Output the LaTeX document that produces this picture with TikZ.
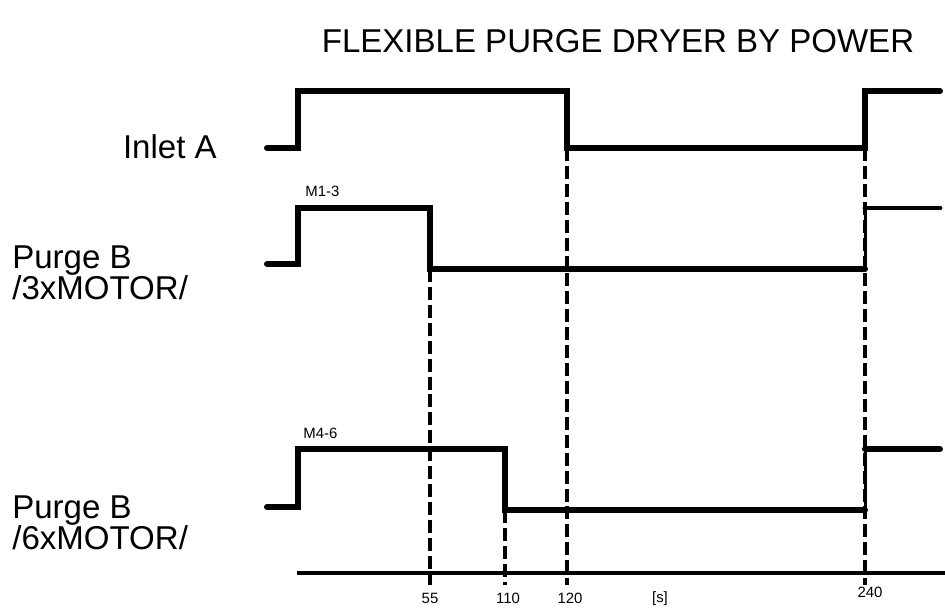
\documentclass[tikz,border=0pt]{standalone}
\usepackage{fontspec}
\setmainfont{Liberation Sans}
\usetikzlibrary{positioning}
\tikzset{
  wave/.style={line width=3.4pt,line cap=round,line join=miter},
  riser/.style={line width=1.7pt},
  guide/.style={line width=1.8pt,dash pattern=on 7.4pt off 2.8pt},
  axisline/.style={line width=2pt},
  sig/.style={font=\fontsize{18.8}{18.1}\selectfont,inner sep=0pt,align=left},
  tag/.style={font=\fontsize{8.5}{10}\selectfont,inner sep=0pt},
}
\begin{document}
\begin{tikzpicture}[x=0.02cm,y=-0.02cm]
  \useasboundingbox (0,0) rectangle (945,608);
  % title and signal names
  \node[sig,anchor=base] (title) at (618,52) {FLEXIBLE PURGE DRYER BY POWER};
  \node[sig,anchor=base east] (inlet) at (217,158) {Inlet A};
  \node[sig,anchor=north west] (purge3) at (12,245) {Purge B\\/3xMOTOR/};
  \node[sig,anchor=north west] (purge6) at (12,495) {Purge B\\/6xMOTOR/};
  \node[tag,anchor=base west] (m13) at (305,196) {M1-3};
  \node[tag,anchor=base west] (m46) at (303,438) {M4-6};
  % time axis
  \coordinate (ax0) at (297,573);
  \coordinate (ax1) at (945,573);
  \draw[axisline] (ax0) -- (ax1);
  \draw[guide] (430,269) -- (430,585);
  \draw[guide] (505,510) -- (505,585);
  \draw[guide] (567,148) -- (567,585);
  \draw[guide] (865,148) -- (865,585);
  \node[tag,anchor=base] (t55) at (430,603) {55};
  \node[tag,anchor=base] (t110) at (508,603) {110};
  \node[tag,anchor=base] (t120) at (570,603) {120};
  \node[tag,anchor=base] (unit) at (660,602) {[s]};
  \node[tag,anchor=base] (t240) at (870,597) {240};
  % Inlet A
  \draw[wave] (267,148) -- (298,148) -- (298,91) -- (567,91) -- (567,148)
    -- (865,148) -- (865,91) -- (940,91);
  % Purge B, 3 motors
  \draw[wave] (267,264) -- (298,264) -- (298,208) -- (430,208) -- (430,269)
    -- (865,269);
  \draw[riser] (865,269) -- (865,208);
  \draw[wave,line width=2.8pt] (865,208) -- (940,208);
  % Purge B, 6 motors
  \draw[wave] (267,507) -- (298,507) -- (298,449) -- (505,449) -- (505,510)
    -- (865,510);
  \draw[riser] (865,510) -- (865,449);
  \draw[wave] (865,449) -- (940,449);
\end{tikzpicture}
\end{document}
